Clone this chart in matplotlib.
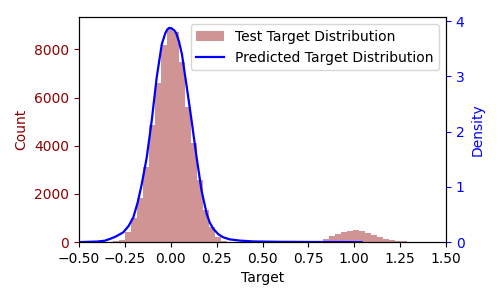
import numpy as np
import matplotlib
matplotlib.use("Agg")
import matplotlib.pyplot as plt

#  ############################# Data ##########################################

bin_width = 0.0327
first_edge = 0.0105 - 10 * bin_width   # left edge of the first bin below

# histogram counts of the test targets, one per bin
test_counts = [30, 100, 400, 1000, 1820, 3100, 4850, 6590, 8170, 8900,
               8720, 7470, 5610, 4100, 2570, 1330, 620, 200, 60, 20,
               10, 8, 6, 5, 5, 5, 5, 5, 5, 5,
               6, 8, 10, 15, 40, 120, 250, 330, 400,
               480, 500, 470, 390, 300, 195, 110, 100, 55, 50,
               20]

# predicted density curve
pred_x = [-0.50, -0.40, -0.36, -0.331, -0.30, -0.259, -0.23, -0.204,
          -0.18, -0.158, -0.131, -0.104, -0.077, -0.049, -0.03, -0.019,
          -0.007, 0.005, 0.017, 0.029, 0.045, 0.061, 0.088, 0.114,
          0.141, 0.168, 0.196, 0.213, 0.232, 0.26, 0.286, 0.32,
          0.377, 0.45, 0.595, 0.80, 1.04]
pred_density = [0.0, 0.01, 0.025, 0.058, 0.10, 0.177, 0.29, 0.448,
                0.72, 1.05, 1.53, 2.19, 2.97, 3.58, 3.78, 3.85,
                3.88, 3.87, 3.84, 3.79, 3.63, 3.40, 2.79, 2.19,
                1.53, 0.93, 0.51, 0.35, 0.24, 0.14, 0.087, 0.05,
                0.027, 0.012, 0.005, 0.002, 0.0]

#  ############################# Plot ##########################################

edges = first_edge + bin_width * np.arange(len(test_counts) + 1)

fig = plt.figure(figsize=(5, 3), dpi=100)
ax1 = fig.add_axes([0.158, 0.193, 0.734, 0.750])

ax1.hist(edges[:-1], bins=edges, weights=test_counts, color='brown',
         alpha=0.5, label='Test Target Distribution')
ax1.set_xlim(-0.5, 1.5)
ax1.set_xlabel('Target')
ax1.set_ylabel('Count', color='darkred')
ax1.tick_params(axis='y', colors='darkred')

ax2 = ax1.twinx()
ax2.plot(pred_x, pred_density, color='blue', lw=1.6,
         label='Predicted Target Distribution')
ax2.set_ylim(bottom=0)
ax2.set_ylabel('Density', color='blue')
ax2.tick_params(axis='y', colors='blue')

h1, l1 = ax1.get_legend_handles_labels()
h2, l2 = ax2.get_legend_handles_labels()
ax2.legend(h1 + h2, l1 + l2, loc='upper right')

plt.savefig("out.png")
